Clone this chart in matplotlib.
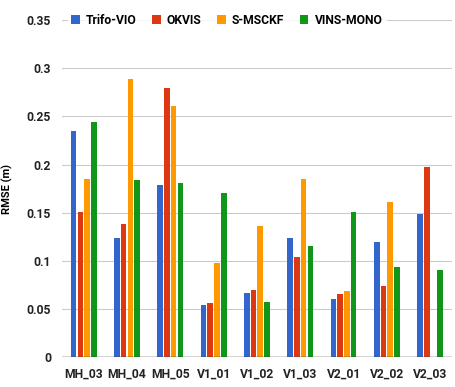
import numpy as np
import matplotlib.pyplot as plt

plt.rcParams['font.family'] = ['Roboto', 'DejaVu Sans']
plt.rcParams['font.weight'] = 'bold'

sequences = ["MH_03", "MH_04", "MH_05", "V1_01", "V1_02", "V1_03", "V2_01", "V2_02", "V2_03"]
methods = ["Trifo-VIO", "OKVIS", "S-MSCKF", "VINS-MONO"]
trifo_vio = [0.235, 0.124, 0.179, 0.054, 0.067, 0.124, 0.060, 0.120, 0.149]
okvis = [0.151, 0.138, 0.280, 0.056, 0.070, 0.104, 0.065, 0.074, 0.197]
s_msckf = [0.185, 0.289, 0.261, 0.098, 0.136, 0.185, 0.069, 0.161, np.nan]
vins_mono = [0.244, 0.184, 0.181, 0.170, 0.057, 0.115, 0.151, 0.094, 0.090]
colors = ["#3366cc", "#dc3912", "#ff9900", "#109618"]

fig = plt.figure(figsize=(4.56, 3.87), dpi=100)
ax = fig.add_axes([0.136, 0.0775, 0.855, 0.8705])

x = np.arange(len(sequences))
pitch = 0.155
width = 0.13
for i, (name, vals) in enumerate(zip(methods, [trifo_vio, okvis, s_msckf, vins_mono])):
    ax.bar(x + (i - 1.5) * pitch, vals, width, color=colors[i], label=name, zorder=3)

ax.set_xlim(-0.5, len(sequences) - 0.5)
ax.set_ylim(0, 0.35)
ax.set_yticks(np.arange(0, 0.351, 0.05))
ax.set_yticklabels(["0", "0.05", "0.1", "0.15", "0.2", "0.25", "0.3", "0.35"])
ax.set_xticks(x)
ax.set_xticklabels(sequences)
ax.tick_params(length=0, labelsize=8.7, colors="#222222", pad=8)
ax.tick_params(axis="y", pad=8)
ax.grid(axis="y", color="#cccccc", linewidth=0.8, zorder=0)
for s in ax.spines.values():
    s.set_visible(False)
ax.axhline(0, color="#333333", linewidth=1, zorder=4)
ax.set_ylabel("RMSE (m)", fontsize=8, fontweight="bold", labelpad=10)

# legend sits on the top gridline, white box hides it
leg = ax.legend(loc="center left", bbox_to_anchor=(0.015, 1.0), ncol=4, frameon=True,
                fontsize=8.7, handlelength=0.7, handleheight=0.7, handletextpad=0.5,
                columnspacing=1.3, borderaxespad=0, borderpad=0.3)
leg.get_frame().set_facecolor("white")
leg.get_frame().set_edgecolor("white")
leg.set_zorder(5)

fig.savefig("out.png", dpi=100)
